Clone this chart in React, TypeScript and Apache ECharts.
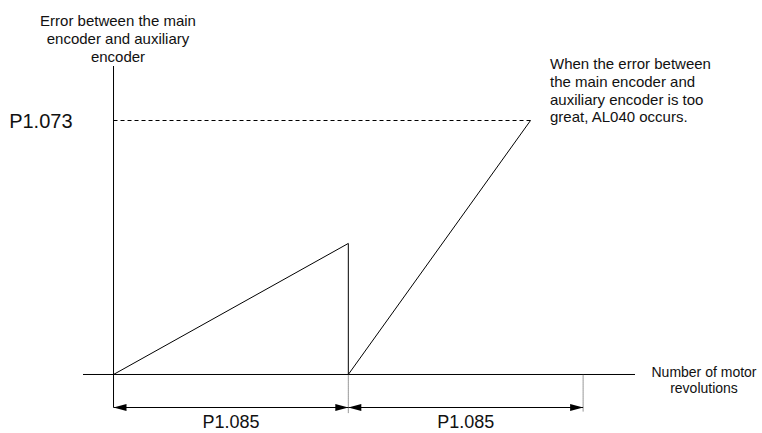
import React, { useEffect, useRef } from "react";
import * as echarts from "echarts";

// Trace of the error (x in units of P1.085 revolutions, y relative to P1.073)
const traceX = [0, 1, 1, 1.776];
const traceY = [0, 0.516, 0, 1];

// Alarm level
const limitLevel = 1;
const limitEndX = 1.776;
const limitLabel = "P1.073";

// Axis extents
const xAxisExtent = [-0.13, 2.221];
const yAxisExtent = [-0.13, 1.2146];

// Dimension segments below the axis
const dimStarts = [0, 1];
const dimEnds = [1, 2];
const dimLabels = ["P1.085", "P1.085"];
const dimLevel = -0.13;
const extLines = [1, 2];
const extBottoms = [-0.152, -0.145];

const yTitle = "Error between the main\nencoder and auxiliary\nencoder";
const xTitle = "Number of motor\nrevolutions";
const note = "When the error between\nthe main encoder and\nauxiliary encoder is too\ngreat, AL040 occurs.";

const FONT = "'Liberation Sans', Arial, sans-serif";
const INK = "#000";

export default function App() {
  const ref = useRef<HTMLDivElement>(null);
  useEffect(() => {
    if (!ref.current) return;
    const chart = echarts.init(ref.current, undefined, { renderer: "svg" });
    const line = (data: number[][], extra: any = {}) => ({
      type: "line",
      data,
      symbol: "none",
      silent: true,
      lineStyle: { color: INK, width: 1, ...extra },
      z: 2,
    });
    chart.setOption({
      animation: false,
      grid: { left: 83, right: 127, top: 66, bottom: 20 },
      xAxis: {
        type: "value",
        min: -0.13,
        max: 2.221,
        show: false,
      },
      yAxis: {
        type: "value",
        min: -0.1516,
        max: 1.2146,
        show: false,
      },
      series: [
        line(traceX.map((x, i) => [x, traceY[i]])),
        line([[0, limitLevel], [limitEndX, limitLevel]], { type: [4, 3] }),
        line([[xAxisExtent[0], 0], [xAxisExtent[1], 0]]),
        line([[0, yAxisExtent[0]], [0, yAxisExtent[1]]]),
        ...extLines.map((x, i) =>
          line([[x, 0], [x, extBottoms[i]]], { type: [1, 1], color: "#333" })
        ),
        {
          type: "custom",
          clip: false,
          silent: true,
          data: dimStarts.map((s, i) => [s, dimEnds[i], i]),
          renderItem: (params: any, api: any) => {
            const s = api.value(0);
            const e = api.value(1);
            const idx = api.value(2);
            const p1 = api.coord([s, dimLevel]);
            const p2 = api.coord([e, dimLevel]);
            const L = 13;
            const H = 3.5;
            return {
              type: "group",
              children: [
                {
                  type: "line",
                  shape: { x1: p1[0], y1: p1[1], x2: p2[0], y2: p2[1] },
                  style: { stroke: INK, lineWidth: 1 },
                },
                {
                  type: "polygon",
                  shape: {
                    points: [
                      [p1[0], p1[1]],
                      [p1[0] + L, p1[1] - H],
                      [p1[0] + L, p1[1] + H],
                    ],
                  },
                  style: { fill: INK },
                },
                {
                  type: "polygon",
                  shape: {
                    points: [
                      [p2[0], p2[1]],
                      [p2[0] - L, p2[1] - H],
                      [p2[0] - L, p2[1] + H],
                    ],
                  },
                  style: { fill: INK },
                },
                {
                  type: "text",
                  x: (p1[0] + p2[0]) / 2,
                  y: p1[1] + 14.5,
                  style: {
                    text: dimLabels[idx],
                    fontSize: 18,
                    fontFamily: FONT,
                    fill: "#111",
                    align: "center",
                    verticalAlign: "middle",
                  },
                },
              ],
            };
          },
        },
        {
          type: "custom",
          clip: false,
          silent: true,
          data: [[0, limitLevel]],
          renderItem: (params: any, api: any) => {
            const p = api.coord([api.value(0), api.value(1)]);
            return {
              type: "text",
              x: p[0] - 41,
              y: p[1] + 0.5,
              style: {
                text: limitLabel,
                fontSize: 20,
                fontFamily: FONT,
                fill: "#111",
                align: "right",
                verticalAlign: "middle",
              },
            };
          },
        },
      ],
      graphic: [
        {
          type: "text",
          x: 118,
          y: 11,
          style: {
            text: yTitle,
            fontSize: 15,
            lineHeight: 18,
            fontFamily: FONT,
            fill: "#111",
            align: "center",
            verticalAlign: "top",
          },
        },
        {
          type: "text",
          x: 704,
          y: 364,
          style: {
            text: xTitle,
            fontSize: 14,
            lineHeight: 16,
            fontFamily: FONT,
            fill: "#111",
            align: "center",
            verticalAlign: "top",
          },
        },
        {
          type: "text",
          x: 550,
          y: 55,
          style: {
            text: note,
            fontSize: 15,
            lineHeight: 17.6,
            fontFamily: FONT,
            fill: "#111",
            align: "left",
            verticalAlign: "top",
          },
        },
      ],
    });
    return () => chart.dispose();
  }, []);
  return (
    <div
      ref={ref}
      style={{ width: 762, height: 433, position: "absolute", left: 0, top: 0 }}
    />
  );
}
